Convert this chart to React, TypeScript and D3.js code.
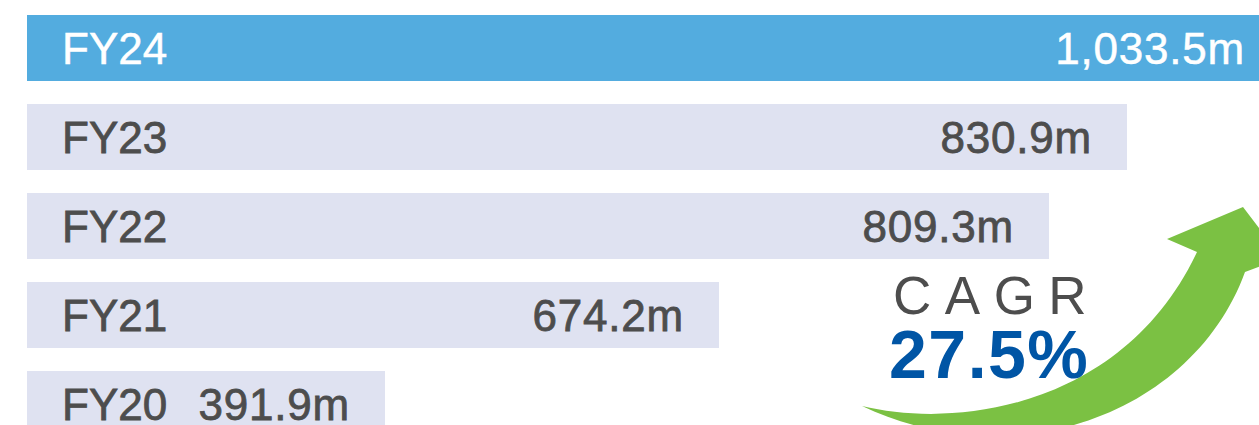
import React from "react";
import * as d3 from "d3";

const categories = ["FY24", "FY23", "FY22", "FY21", "FY20"];
const values = [1033.5, 830.9, 809.3, 674.2, 391.9];
const valueLabels = ["1,033.5m", "830.9m", "809.3m", "674.2m", "391.9m"];
const cagrTitle = "CAGR";
const cagrValue = "27.5%";

const W = 1259;
const H = 425;
const FONT = "'Liberation Sans', Arial, Helvetica, sans-serif";

export default function App() {
  const y = d3
    .scaleBand<string>()
    .domain(categories)
    .range([15, 437])
    .paddingInner(23 / 89)
    .paddingOuter(0);

  // stylised (non-proportional) bar lengths as in the source infographic
  const x = d3
    .scaleLinear()
    .domain([0, 391.9, 674.2, 809.3, 830.9, 1033.5])
    .range([27, 385, 719, 1049, 1127, 1280]);

  const fs = 44;
  const arrowPath =
    "M 862 406 C 960 430, 1125 405, 1197 252 L 1167 239 L 1243 207 L 1282 258 L 1245 272 C 1195 410, 1020 480, 862 406 Z";

  return (
    <svg
      width={W}
      height={H}
      style={{ position: "absolute", left: 0, top: 0, display: "block" }}
      fontFamily={FONT}
    >
      <rect width={W} height={H} fill="#ffffff" />
      {categories.map((c, i) => {
        const top = y(c)!;
        const bw = y.bandwidth();
        const cy = top + bw / 2;
        const highlight = i === 0;
        const fill = highlight ? "#53ACDF" : "#DFE2F1";
        const txt = highlight ? "#ffffff" : "#4D4D4D";
        const sw = highlight ? 0.5 : 0.8;
        const end = x(values[i]);
        return (
          <g key={c}>
            <rect x={x(0)} y={top} width={end - x(0)} height={bw} fill={fill} />
            <text
              x={x(0) + 35}
              y={cy + fs * 0.358}
              fontSize={fs}
              fill={txt}
              stroke={txt}
              strokeWidth={sw}
            >
              {c}
            </text>
            <text
              x={end - 35}
              y={cy + fs * 0.358}
              fontSize={fs}
              fill={txt}
              stroke={txt}
              strokeWidth={sw}
              textAnchor="end"
              letterSpacing={0.8}
            >
              {valueLabels[i]}
            </text>
          </g>
        );
      })}
      <path d={arrowPath} fill="#7BC143" />
      <text x={893} y={314} fontSize={53} fill="#4D4D4D" letterSpacing={13.5}>
        {cagrTitle}
      </text>
      <text
        x={889}
        y={378}
        fontSize={68}
        fontWeight="bold"
        fill="#0055A5"
        letterSpacing={1.5}
      >
        {cagrValue}
      </text>
    </svg>
  );
}
